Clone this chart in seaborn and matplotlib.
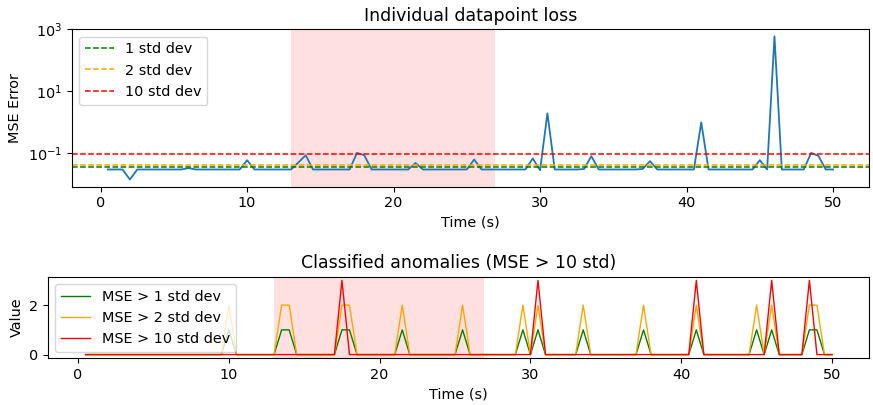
import numpy as np
import pandas as pd
import matplotlib
matplotlib.use("Agg")
import matplotlib.pyplot as plt
from matplotlib.ticker import FixedLocator, NullLocator, LogFormatterSciNotation
import seaborn as sns

# ---- data ----
times = [0.5, 1.0, 1.5, 2.0, 2.5, 3.0, 3.5, 4.0, 4.5, 5.0,
         5.5, 6.0, 6.5, 7.0, 7.5, 8.0, 8.5, 9.0, 9.5, 10.0,
         10.5, 11.0, 11.5, 12.0, 12.5, 13.0, 13.5, 14.0, 14.5, 15.0,
         15.5, 16.0, 16.5, 17.0, 17.5, 18.0, 18.5, 19.0, 19.5, 20.0,
         20.5, 21.0, 21.5, 22.0, 22.5, 23.0, 23.5, 24.0, 24.5, 25.0,
         25.5, 26.0, 26.5, 27.0, 27.5, 28.0, 28.5, 29.0, 29.5, 30.0,
         30.5, 31.0, 31.5, 32.0, 32.5, 33.0, 33.5, 34.0, 34.5, 35.0,
         35.5, 36.0, 36.5, 37.0, 37.5, 38.0, 38.5, 39.0, 39.5, 40.0,
         40.5, 41.0, 41.5, 42.0, 42.5, 43.0, 43.5, 44.0, 44.5, 45.0,
         45.5, 46.0, 46.5, 47.0, 47.5, 48.0, 48.5, 49.0, 49.5, 50.0]

mse_loss = [0.029, 0.029, 0.029, 0.0137, 0.029, 0.029, 0.029, 0.029, 0.029, 0.029,
            0.029, 0.032, 0.029, 0.029, 0.029, 0.029, 0.029, 0.029, 0.029, 0.058,
            0.029, 0.029, 0.029, 0.029, 0.029, 0.029, 0.049, 0.084, 0.029, 0.029,
            0.029, 0.029, 0.029, 0.029, 0.100, 0.084, 0.029, 0.029, 0.029, 0.029,
            0.029, 0.029, 0.047, 0.029, 0.029, 0.029, 0.029, 0.029, 0.029, 0.029,
            0.061, 0.029, 0.029, 0.029, 0.029, 0.029, 0.029, 0.029, 0.066, 0.0275,
            1.9, 0.029, 0.029, 0.029, 0.029, 0.030, 0.078, 0.029, 0.029, 0.029,
            0.029, 0.029, 0.029, 0.030, 0.054, 0.029, 0.029, 0.029, 0.029, 0.029,
            0.029, 0.97, 0.029, 0.029, 0.029, 0.029, 0.029, 0.029, 0.029, 0.058,
            0.029, 590.0, 0.029, 0.029, 0.029, 0.029, 0.100, 0.080, 0.029, 0.029]

threshold_labels = ["1 std dev", "2 std dev", "10 std dev"]
threshold_values = [0.0352, 0.040, 0.0887]
threshold_colors = ["green", "orange", "red"]

class_labels = ["MSE > 1 std dev", "MSE > 2 std dev", "MSE > 10 std dev"]
class_levels = [1, 2, 3]

anomaly_window = [13.0, 26.9]
log_ticks = [1e-1, 1e1, 1e3]

plt.rcParams["font.size"] = 10.4

# ---- figure ----
fig = plt.figure(figsize=(8.73, 4.05), dpi=100)
ax1 = fig.add_axes([0.0821, 0.539, 0.9137, 0.3887])
ax2 = fig.add_axes([0.0553, 0.1153, 0.9405, 0.2015])

df = pd.DataFrame({"time": times, "mse": mse_loss})
sns.lineplot(data=df, x="time", y="mse", ax=ax1, color="#1f77b4", linewidth=1.3)
for lab, val, col in zip(threshold_labels, threshold_values, threshold_colors):
    ax1.axhline(val, color=col, linestyle="--", linewidth=1.1, label=lab)
ax1.axvspan(anomaly_window[0], anomaly_window[1], color="red", alpha=0.12, linewidth=0)
ax1.set_yscale("log")
ax1.set_ylim(10 ** -2.095, 10 ** 3.0)
ax1.yaxis.set_major_locator(FixedLocator(log_ticks))
ax1.yaxis.set_major_formatter(LogFormatterSciNotation())
ax1.yaxis.set_minor_locator(NullLocator())
ax1.set_title("Individual datapoint loss")
ax1.set_xlabel("Time (s)")
ax1.set_ylabel("MSE Error")
ax1.legend(loc="upper left")

loss_arr = np.array(mse_loss)
for lab, val, col, lvl in zip(class_labels, threshold_values, threshold_colors, class_levels):
    flags = np.where(loss_arr > val, lvl, 0)
    sns.lineplot(x=times, y=flags, ax=ax2, color=col, linewidth=1, label=lab)
ax2.axvspan(anomaly_window[0], anomaly_window[1], color="red", alpha=0.12, linewidth=0)
ax2.set_title("Classified anomalies (MSE > 10 std)")
ax2.set_xlabel("Time (s)")
ax2.set_ylabel("Value")
ax2.legend(loc="upper left")

fig.savefig("out.png", dpi=100)
